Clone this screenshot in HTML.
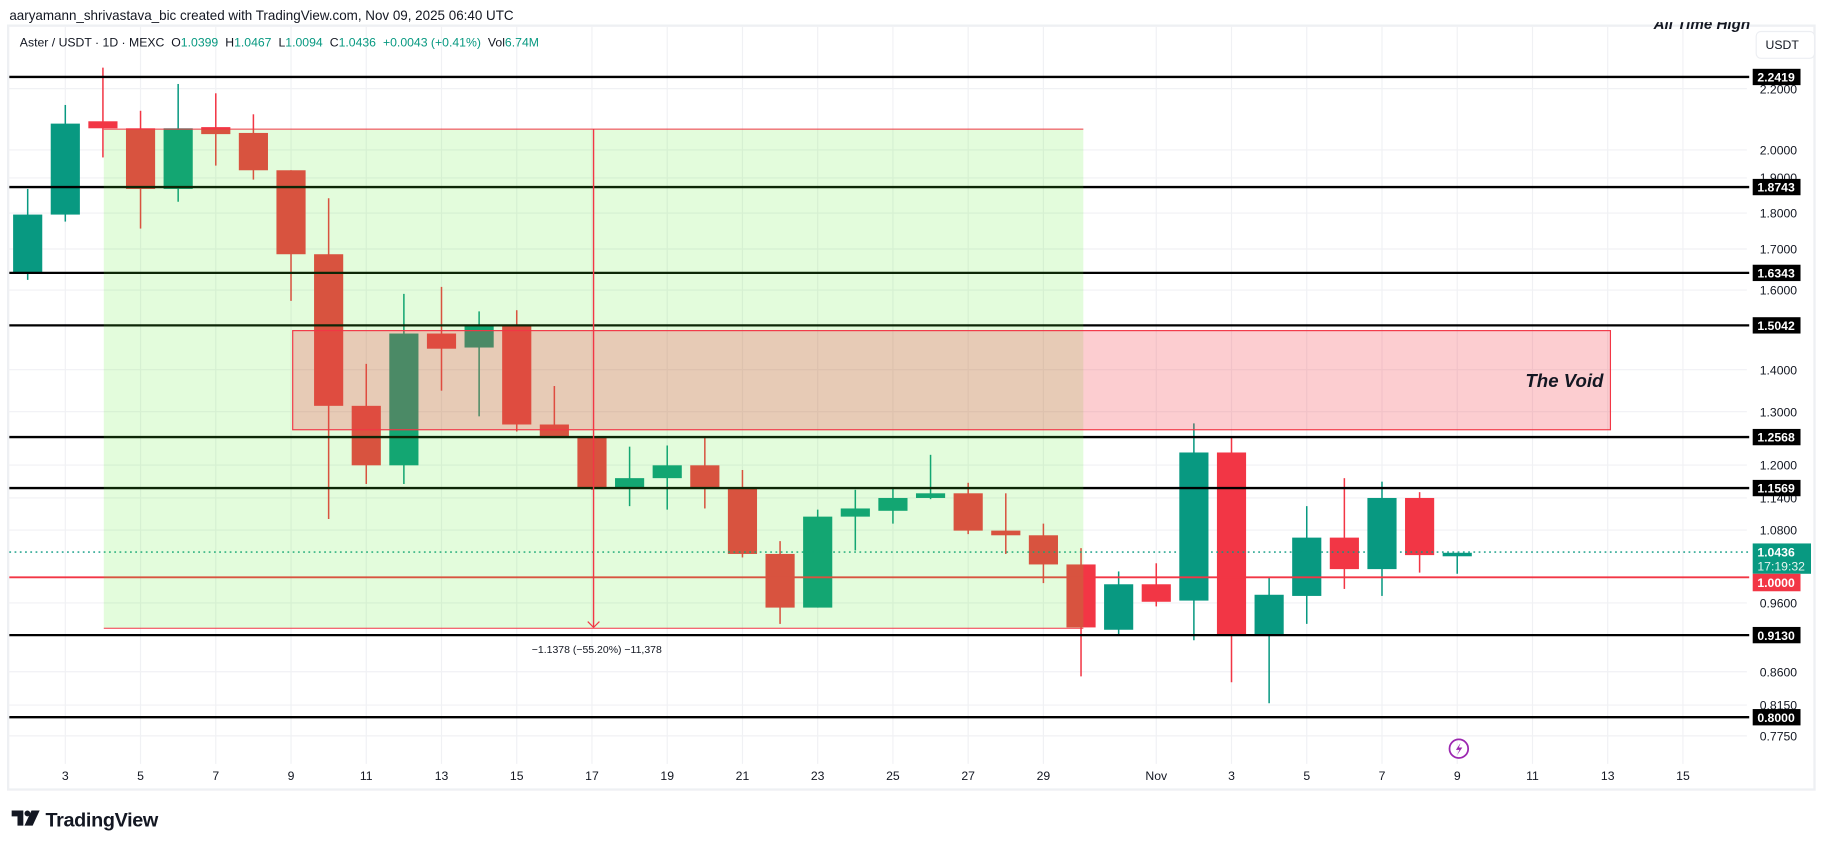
<!DOCTYPE html>
<html><head><meta charset="utf-8"><style>
html,body{margin:0;padding:0;background:#fff;}
svg{display:block;font-family:"Liberation Sans",sans-serif;}
</style></head><body>
<svg width="1825" height="849" viewBox="0 0 1565 728" preserveAspectRatio="none" xmlns="http://www.w3.org/2000/svg">
<defs><clipPath id="c"><rect x="7" y="19" width="1549" height="655"/></clipPath></defs>
<rect width="1565" height="728" fill="#fff"/>
<text x="8" y="17" font-size="11.5" fill="#131722">aaryamann_shrivastava_bic created with TradingView.com, Nov 09, 2025 06:40 UTC</text>
<rect x="7" y="22" width="1549" height="655" fill="none" stroke="#eef0f3" stroke-width="2"/>
<g clip-path="url(#c)">
<text x="1418" y="25" font-size="13" font-style="italic" font-weight="bold" fill="#131722">All Time High</text>
</g>
<g id="grid" stroke="#f0f1f4" stroke-width="1">
<line x1="7" x2="1498" y1="76" y2="76"/><line x1="7" x2="1498" y1="128.6" y2="128.6"/>
<line x1="7" x2="1498" y1="152.6" y2="152.6"/><line x1="7" x2="1498" y1="182.7" y2="182.7"/>
<line x1="7" x2="1498" y1="213.5" y2="213.5"/><line x1="7" x2="1498" y1="248.7" y2="248.7"/>
<line x1="7" x2="1498" y1="317" y2="317"/><line x1="7" x2="1498" y1="353" y2="353"/>
<line x1="7" x2="1498" y1="398.8" y2="398.8"/><line x1="7" x2="1498" y1="427" y2="427"/>
<line x1="7" x2="1498" y1="454.5" y2="454.5"/><line x1="7" x2="1498" y1="517" y2="517"/>
<line x1="7" x2="1498" y1="576" y2="576"/><line x1="7" x2="1498" y1="604.6" y2="604.6"/>
<line x1="7" x2="1498" y1="631" y2="631"/>
</g>
<g id="vgrid" stroke="#f0f1f4" stroke-width="1"></g>
<g id="candles"></g>
<g stroke="#000" stroke-width="2">
<line x1="8" x2="1500" y1="66" y2="66"/><line x1="8" x2="1500" y1="160.4" y2="160.4"/>
<line x1="8" x2="1500" y1="234" y2="234"/><line x1="8" x2="1500" y1="279" y2="279"/>
<line x1="8" x2="1500" y1="374.8" y2="374.8"/><line x1="8" x2="1500" y1="418.5" y2="418.5"/>
<line x1="8" x2="1500" y1="544.6" y2="544.6"/><line x1="8" x2="1500" y1="615" y2="615"/>
</g>
<line x1="8" x2="1500" y1="495" y2="495" stroke="#f23645" stroke-width="1.6"/>
<line x1="8" x2="1500" y1="473.4" y2="473.4" stroke="#089981" stroke-width="1.2" stroke-dasharray="1.5 3"/>
<rect x="89" y="110.7" width="840" height="428" fill="rgba(80,235,40,0.16)"/>
<line x1="89" x2="929" y1="110.7" y2="110.7" stroke="#f23645" stroke-width="0.8"/>
<line x1="89" x2="929" y1="538.7" y2="538.7" stroke="#f23645" stroke-width="0.8"/>
<rect x="251" y="283.5" width="1130" height="85" fill="rgba(242,54,69,0.25)" stroke="#f23645" stroke-width="1"/>
<text x="1375" y="332" font-size="16" font-weight="bold" font-style="italic" fill="#131722" text-anchor="end">The Void</text>
<line x1="509" x2="509" y1="110.7" y2="538" stroke="#f23645" stroke-width="1.2"/>
<polyline points="504,533 509,538 514,533" fill="none" stroke="#f23645" stroke-width="1"/>
<text x="456" y="560" font-size="9" fill="#131722">−1.1378 (−55.20%) −11,378</text>
<text x="17" y="40" font-size="10.5" fill="#131722">Aster / USDT · 1D · MEXC  <tspan dx="3">O</tspan><tspan fill="#089981">1.0399</tspan><tspan dx="6">H</tspan><tspan fill="#089981">1.0467</tspan><tspan dx="6">L</tspan><tspan fill="#089981">1.0094</tspan><tspan dx="6">C</tspan><tspan fill="#089981">1.0436</tspan><tspan dx="6" fill="#089981">+0.0043 (+0.41%)</tspan><tspan dx="6">Vol</tspan><tspan fill="#089981">6.74M</tspan></text>
<rect x="1506" y="27" width="50" height="23" rx="4" fill="#fff" stroke="#eceef2"/>
<text x="1514" y="42" font-size="10.5" fill="#131722">USDT</text>
<g font-size="10.5" fill="#131722">
<text x="1509" y="80">2.2000</text><text x="1509" y="132.5">2.0000</text><text x="1509" y="156">1.9000</text>
<text x="1509" y="186.5">1.8000</text><text x="1509" y="217.5">1.7000</text><text x="1509" y="252.5">1.6000</text>
<text x="1509" y="321">1.4000</text><text x="1509" y="357">1.3000</text><text x="1509" y="402.5">1.2000</text>
<text x="1509" y="431">1.1400</text><text x="1509" y="458.5">1.0800</text><text x="1509" y="521">0.9600</text>
<text x="1509" y="580">0.8600</text><text x="1509" y="608.5">0.8150</text><text x="1509" y="635">0.7750</text>
</g>
<g font-size="10.5" font-weight="bold" fill="#fff">
<rect x="1503" y="59" width="41" height="14" fill="#000"/><text x="1507" y="70">2.2419</text>
<rect x="1503" y="153.4" width="41" height="14" fill="#000"/><text x="1507" y="164.4">1.8743</text>
<rect x="1503" y="227" width="41" height="14" fill="#000"/><text x="1507" y="238">1.6343</text>
<rect x="1503" y="272" width="41" height="14" fill="#000"/><text x="1507" y="283">1.5042</text>
<rect x="1503" y="367.8" width="41" height="14" fill="#000"/><text x="1507" y="378.8">1.2568</text>
<rect x="1503" y="411.5" width="41" height="14" fill="#000"/><text x="1507" y="422.5">1.1569</text>
<rect x="1503" y="537.6" width="41" height="14" fill="#000"/><text x="1507" y="548.6">0.9130</text>
<rect x="1503" y="608" width="41" height="14" fill="#000"/><text x="1507" y="619">0.8000</text>
<rect x="1503" y="466" width="50" height="26" fill="#089981"/><text x="1507" y="477">1.0436</text><text x="1507" y="489" font-weight="normal" fill="#e6f5f1">17:19:32</text>
<rect x="1503" y="492" width="41" height="15" fill="#f23645"/><text x="1507" y="503.5">1.0000</text>
</g>
<circle cx="1251" cy="642" r="8" fill="none" stroke="#9c27b0" stroke-width="1.5"/>
<path d="M1252.5,637 L1248.5,643 L1251.5,643 L1249.5,647.5 L1254,641 L1251,641 Z" fill="#9c27b0"/>
<g id="dates" font-size="10.5" fill="#131722" text-anchor="middle"></g>
<g transform="translate(10,695)">
<path d="M0,0 H10 V13 H5 V5 H0 Z" fill="#131722"/>
<circle cx="13.5" cy="2.5" r="2.5" fill="#131722"/>
<path d="M17,0 H24 L18,13 H11 Z" fill="#131722"/>
<text x="29" y="13.5" font-size="17" font-weight="bold" fill="#131722" letter-spacing="-0.3">TradingView</text>
</g>
<script>
var ns="http://www.w3.org/2000/svg";
function X(i){return 56+i*32.26;}
var C=[
[-1,162,184,234,240,1],[0,90,106,184,190,1],[1,58,104,110,135,0],[2,95,110,162,196,0],[3,72,110,162,173,1],
[4,80,109,115,142,0],[5,98,114,146,154,0],[6,146,146,218,258,0],[7,170,218,348,445,0],[8,312,348,399,415,0],
[9,252,286,399,415,1],[10,246,286,299,335,0],[11,267,279,298,357,1],[12,266,279,364,370,0],[13,331,364,375,375,0],
[14,375,375,418,420,0],[15,383,410,418,434,1],[16,382,399,410,437,1],[17,375,399,418,436,0],[18,403,418,475,478,0],
[19,464,475,521,535,0],[20,437,443,521,521,1],[21,420,436,443,472,1],[22,418,427,438,449,1],[23,390,423,427,428,1],
[24,414,423,455,458,0],[25,423,455,459,475,0],[26,449,459,484,500,0],[27,470,484,538,580,0],[28,490,501,540,544,1],
[29,483,501,516,520,0],[30,363,388,515,549,1],[31,374,388,545,585,0],[32,495,510,545,603,1],[33,434,461,511,535,1],
[34,410,461,488,505,0],[35,413,427,488,511,1],[36,422,427,476,491,0],[37,474,474,476,492,1]];
var g=document.getElementById('candles');
C.forEach(function(c){var x=X(c[0]);var col=c[5]?'#089981':'#f23645';
var l=document.createElementNS(ns,'line');l.setAttribute('x1',x);l.setAttribute('x2',x);l.setAttribute('y1',c[1]);l.setAttribute('y2',c[4]);l.setAttribute('stroke',col);l.setAttribute('stroke-width','1.3');g.appendChild(l);
var r=document.createElementNS(ns,'rect');r.setAttribute('x',x-12.5);r.setAttribute('width',25);r.setAttribute('y',c[2]);r.setAttribute('height',Math.max(3,c[3]-c[2]));r.setAttribute('fill',col);g.appendChild(r);});
var D=[[0,'3'],[2,'5'],[4,'7'],[6,'9'],[8,'11'],[10,'13'],[12,'15'],[14,'17'],[16,'19'],[18,'21'],[20,'23'],[22,'25'],[24,'27'],[26,'29'],[29,'Nov'],[31,'3'],[33,'5'],[35,'7'],[37,'9'],[39,'11'],[41,'13'],[43,'15']];
var dg=document.getElementById('dates'),vg=document.getElementById('vgrid');
D.forEach(function(d){var x=X(d[0]);var t=document.createElementNS(ns,'text');t.setAttribute('x',x);t.setAttribute('y',669);t.textContent=d[1];dg.appendChild(t);
var l=document.createElementNS(ns,'line');l.setAttribute('x1',x);l.setAttribute('x2',x);l.setAttribute('y1',23);l.setAttribute('y2',655);vg.appendChild(l);});
</script>
</svg>
</body></html>
